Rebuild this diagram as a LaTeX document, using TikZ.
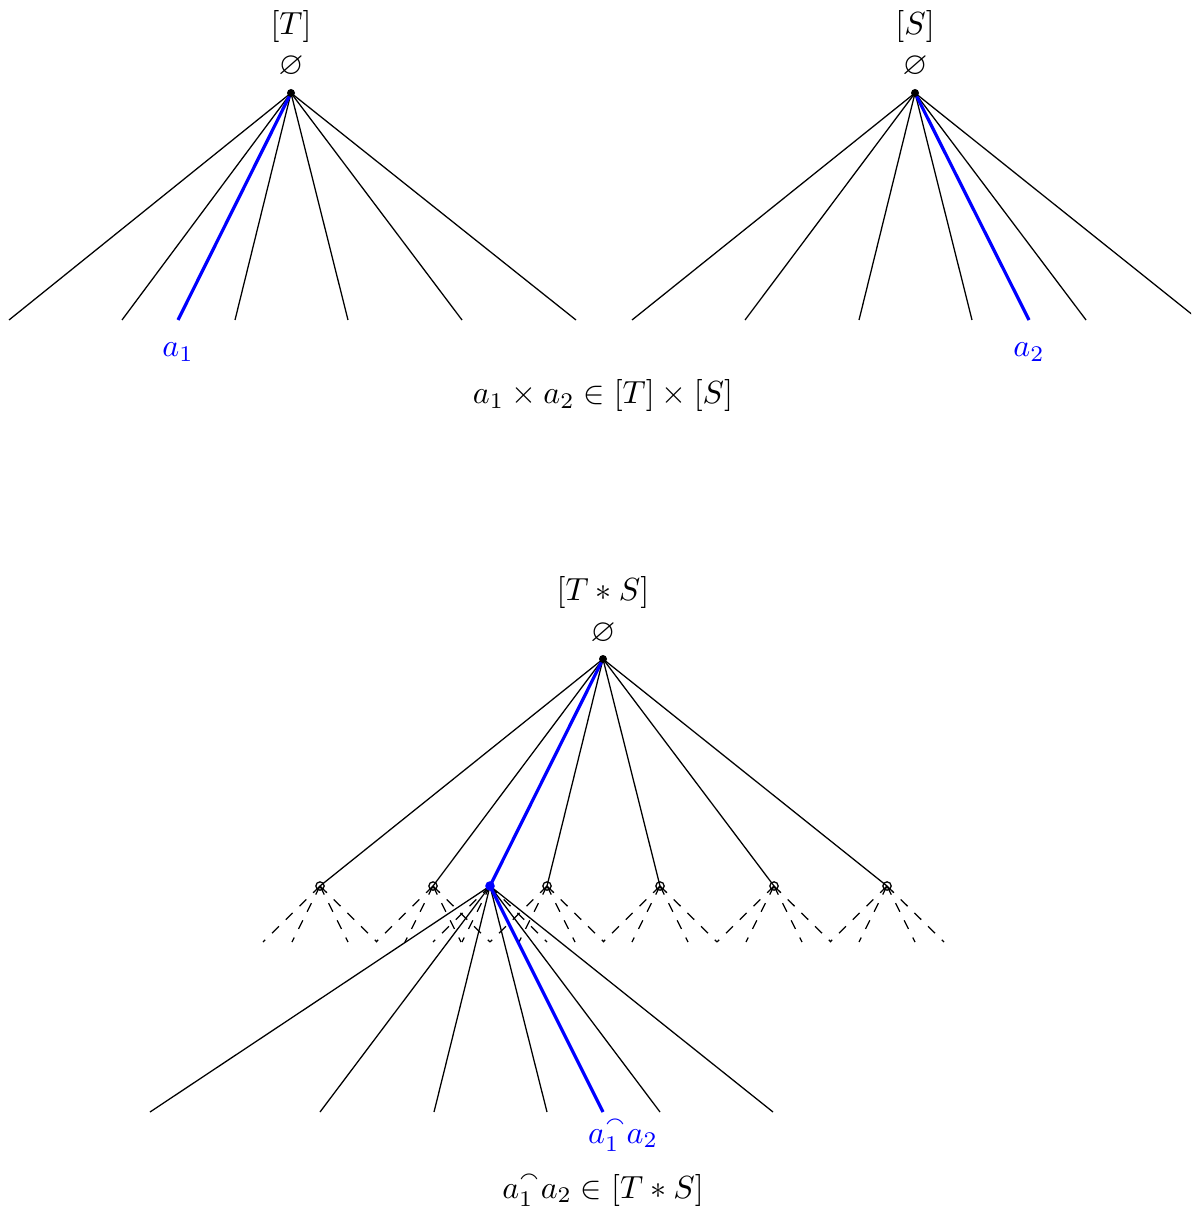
\documentclass[tikz,border=0pt]{standalone}
\usepackage{amssymb}
\begin{document}
\begin{tikzpicture}[x=0.3125pt,y=-0.3125pt,
  edge/.style={line width=0.4pt},
  hl/.style={blue,line width=1pt},
  dsh/.style={dashed,line width=0.4pt},
  rootdot/.style={circle,fill=black,inner sep=0pt,minimum size=2.5pt},
  hub/.style={circle,draw=black,inner sep=0pt,minimum size=2.6pt,line width=0.4pt},
  bluehub/.style={circle,fill=blue,inner sep=0pt,minimum size=3pt},
  lbl/.style={inner sep=0pt},
  bluelbl/.style={inner sep=0pt,text=blue}]
\useasboundingbox (0,0) rectangle (1191,1212);
\clip (0,0) rectangle (1191,1212);

% ---------- tree [T] ----------
\coordinate (rT) at (291,93);
\foreach \i/\x in {1/9,2/122,3/235,4/348,5/462,6/576}
  \coordinate (tl\i) at (\x,320);
\coordinate (ta1) at (178,320);
\foreach \i in {1,...,6} \draw[edge] (rT) -- (tl\i);
\draw[hl] (rT) -- (ta1);
\node[rootdot] (rTdot) at (rT) {};
\node[lbl] (Tlab) at (291,27) {$[T]$};
\node[lbl] (Tempty) at (291,67) {$\varnothing$};
\node[bluelbl,anchor=base] (a1lab) at (178,357) {$a_1$};

% ---------- tree [S] ----------
\coordinate (rS) at (915,93);
\foreach \i/\x in {1/632,2/745,3/859,4/972,5/1086,6/1199}
  \coordinate (sl\i) at (\x,320);
\coordinate (sa2) at (1029,320);
\foreach \i in {1,...,6} \draw[edge] (rS) -- (sl\i);
\draw[hl] (rS) -- (sa2);
\node[rootdot] (rSdot) at (rS) {};
\node[lbl] (Slab) at (915,27) {$[S]$};
\node[lbl] (Sempty) at (915,67) {$\varnothing$};
\node[bluelbl,anchor=base] (a2lab) at (1029,357) {$a_2$};

\node[lbl,anchor=base] (prod) at (603,404) {$a_1\times a_2\in[T]\times[S]$};

% ---------- tree [T*S] ----------
\coordinate (rTS) at (603,659);
\foreach \i/\x in {1/320,2/433,3/547,4/660,5/774,6/887}
  \coordinate (m\i) at (\x,886);
\coordinate (mb) at (490,886);
% dashed stubs below each middle node
\foreach \n in {m1,m2,m3,m4,m5,m6,mb}{
  \draw[dsh] (\n) -- ++(-57,56);
  \draw[dsh] (\n) -- ++(-28,56);
  \draw[dsh] (\n) -- ++(28,56);
  \draw[dsh] (\n) -- ++(57,56);
}
\foreach \i in {1,...,6} \draw[edge] (rTS) -- (m\i);
% subtree of the blue node
\foreach \i/\x in {1/150,2/320,3/434,4/547,5/660,6/773}
  \coordinate (bl\i) at (\x,1112);
\coordinate (ba) at (603,1112);
\foreach \i in {1,...,6} \draw[edge] (mb) -- (bl\i);
\draw[hl] (rTS) -- (mb) -- (ba);
\foreach \i in {1,...,6} \node[hub] (h\i) at (m\i) {};
\node[bluehub] (hb) at (mb) {};
\node[rootdot] (rTSdot) at (rTS) {};
\node[lbl] (TSlab) at (603,593) {$[T*S]$};
\node[lbl] (TSempty) at (603,633) {$\varnothing$};
\node[bluelbl,anchor=base] (catlab) at (623,1143) {$a_1^\smallfrown a_2$};
\node[lbl,anchor=base] (cat) at (603,1198) {$a_1^\smallfrown a_2\in[T*S]$};
\end{tikzpicture}
\end{document}
